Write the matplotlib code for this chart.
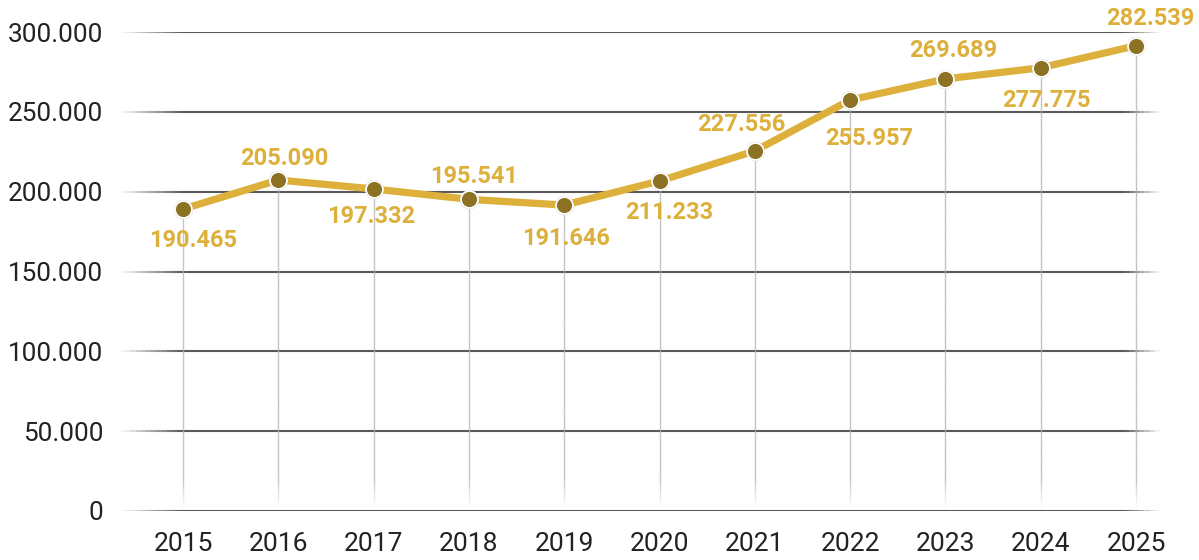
#!/usr/bin/env python3
"""Yearly totals 2015-2025, gold line with value labels."""

import numpy as np
import matplotlib
matplotlib.use("Agg")
import matplotlib.pyplot as plt
from matplotlib.collections import LineCollection

# ── data ──
years = [2015, 2016, 2017, 2018, 2019, 2020, 2021, 2022, 2023, 2024, 2025]
# plotted heights (thousands)
values = [189.1, 207.3, 201.7, 195.2, 191.6, 206.7, 225.5, 257.4, 270.6, 277.6, 291.4]
value_labels = ["190.465", "205.090", "197.332", "195.541", "191.646", "211.233",
                "227.556", "255.957", "269.689", "277.775", "282.539"]
y_ticks = [0, 50, 100, 150, 200, 250, 300]
y_tick_labels = ["0", "50.000", "100.000", "150.000", "200.000", "250.000", "300.000"]

# label placement, pixel offsets from each point (style, not data)
label_dx = [10, 6, -2, 5, 2, 10, -14, 19, 8, 6, 14]
label_dy = [-31, 22, -28, 23, -33, -32, 26, -38, 28, -33, 27]

GOLD = "#DDB03C"
DOT = "#8C7222"
TEXT = "#222222"

W, H, DPI = 1199, 560, 100
fig = plt.figure(figsize=(W / DPI, H / DPI), dpi=DPI)
fig.patch.set_facecolor("white")

# axes box in pixels: x 120..1160, y 32..511 (top..bottom)
ax = fig.add_axes([120 / W, (H - 511) / H, (1160 - 120) / W, (511 - 32) / H])
step = (1136 - 183) / 10
ax.set_xlim(2015 - (183 - 120) / step, 2025 + (1160 - 1136) / step)
ax.set_ylim(0, 300)
for s in ax.spines.values():
    s.set_visible(False)


def fade_segments(n, ramp_in, ramp_out):
    t = np.linspace(0, 1, n + 1)
    mid = (t[:-1] + t[1:]) / 2
    a = np.ones_like(mid)
    if ramp_in > 0:
        a = np.minimum(a, mid / ramp_in)
    if ramp_out > 0:
        a = np.minimum(a, (1 - mid) / ramp_out)
    return t, np.clip(a, 0, 1)


# horizontal grid lines, faded at both ends
t, alpha = fade_segments(200, 0.06, 0.035)
for yv in y_ticks:
    segs = [[(t[i], yv), (t[i + 1], yv)] for i in range(len(t) - 1)]
    cols = [(0.35, 0.35, 0.35, a) for a in alpha]
    lc = LineCollection(segs, colors=cols, linewidths=1.5,
                        transform=ax.get_yaxis_transform(), zorder=1)
    ax.add_collection(lc)

# drop lines from points to the baseline, faded near the bottom
for x, v in zip(years, values):
    ys = np.linspace(2.5, v, 80)
    mid = (ys[:-1] + ys[1:]) / 2
    a = np.clip((mid - 2.5) / 18, 0, 1) * 0.8
    segs = [[(x, ys[i]), (x, ys[i + 1])] for i in range(len(ys) - 1)]
    cols = [(0.7, 0.7, 0.7, ai) for ai in a]
    ax.add_collection(LineCollection(segs, colors=cols, linewidths=1.0, zorder=1))

# line + markers
ax.plot(years, values, color=GOLD, linewidth=5.2, solid_capstyle="round",
        zorder=3, clip_on=False)
ax.plot(years, values, linestyle="none", marker="o", markersize=13.8,
        markerfacecolor="#9a9a9a", markeredgecolor="none", alpha=0.6,
        zorder=4, clip_on=False)
ax.plot(years, values, linestyle="none", marker="o", markersize=12.2,
        markerfacecolor=DOT, markeredgecolor="white", markeredgewidth=1.3,
        zorder=5, clip_on=False)

# value labels
for x, v, lab, dx, dy in zip(years, values, value_labels, label_dx, label_dy):
    ax.annotate(lab, (x, v), xytext=(dx, dy), textcoords="offset pixels",
                ha="center", va="center", color=GOLD, fontsize=17,
                fontweight="bold", family="Roboto", zorder=6,
                annotation_clip=False)

ax.set_xticks(years)
ax.set_xticklabels([str(y) for y in years])
ax.set_yticks(y_ticks)
ax.set_yticklabels(y_tick_labels)
ax.tick_params(axis="both", length=0, colors=TEXT)
ax.tick_params(axis="x", pad=15)
ax.tick_params(axis="y", pad=12)
for lab in ax.get_xticklabels():
    lab.set_fontsize(19)
    lab.set_family("Roboto")
for lab in ax.get_yticklabels():
    lab.set_fontsize(18.8)
    lab.set_family("Roboto")

fig.savefig("out.png", dpi=DPI, facecolor="white")
plt.close(fig)
